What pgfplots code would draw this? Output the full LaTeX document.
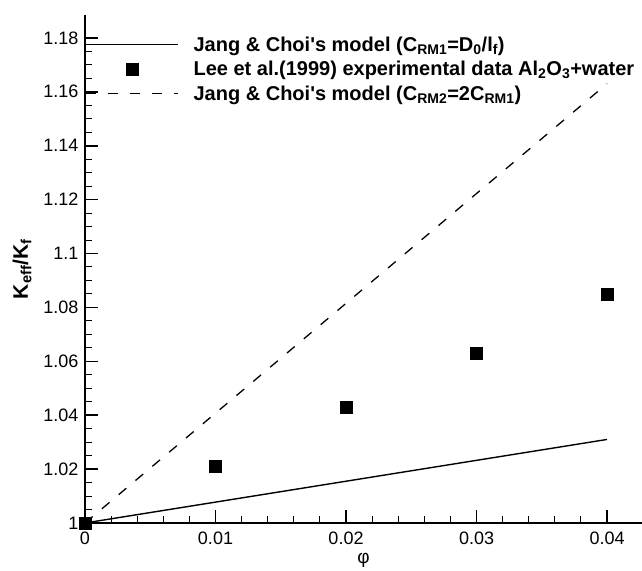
\documentclass[border=0pt]{standalone}
\usepackage{fontspec}
\setmainfont{Liberation Sans}
\usepackage{pgfplots}
\pgfplotsset{compat=1.18}
\begin{document}
\begin{tikzpicture}
\begin{axis}[
  name=ax,
  scale only axis,
  width=557bp, height=508bp,
  xmin=0, xmax=0.04268, ymin=1, ymax=1.1885,
  axis lines*=left,
  axis line style={line width=1.8bp},
  tick align=inside,
  scaled x ticks=false, scaled y ticks=false,
  xtick={0,0.01,0.02,0.03,0.04},
  xticklabels={0,0.01,0.02,0.03,0.04},
  ytick={1,1.02,1.04,1.06,1.08,1.1,1.12,1.14,1.16,1.18},
  yticklabels={1,1.02,1.04,1.06,1.08,1.1,1.12,1.14,1.16,1.18},
  minor x tick num=4, minor y tick num=3,
  major tick length=13bp, minor tick length=7.5bp,
  every major tick/.style={line width=1.6bp, black},
  every minor tick/.style={line width=1bp, black},
  ticklabel style={font=\fontsize{18bp}{20bp}\selectfont},
  x tick label style={yshift=-5bp},
  y tick label style={xshift=-3bp},
  clip=false,
  xlabel={φ},
  xlabel style={font=\fontsize{19bp}{22bp}\selectfont, at={(rel axis cs:0.5,-0.074)}, anchor=center},
  ylabel={K\textsubscript{eff}/K\textsubscript{f}},
  ylabel style={font=\fontsize{21bp}{24bp}\selectfont\bfseries, at={(rel axis cs:-0.1131,0.5)}, anchor=center},
  legend style={at={(0,0.9565)}, anchor=north west, draw=none, fill=none, inner sep=0pt,
    column sep=15bp, row sep=6.5bp,
    nodes={inner sep=0pt, text height=14bp, text depth=4bp, anchor=base west, font=\fontsize{20bp}{24bp}\selectfont\bfseries}},
  legend cell align=left,
]
\addplot[black, line width=1.4bp,
  legend image code/.code={\draw[black, line width=1.4bp] (0bp,7bp) -- (92bp,7bp);}]
  coordinates {(0,1) (0.04,1.031)};
\addlegendentry{Jang \& Choi\textquotesingle s model (C\textsubscript{RM1}=D\textsubscript{0}/l\textsubscript{f})}
\addplot[only marks, mark=square*, mark size=6bp, mark options={fill=black, draw=black, line width=0.4bp},
  legend image code/.code={\path[draw=none, fill=none] (0bp,7bp) -- (92bp,7bp); \fill[black] (40bp,1bp) rectangle (52bp,13bp);}]
  coordinates {(0,1) (0.01,1.021) (0.02,1.043) (0.03,1.063) (0.04,1.085)};
\addlegendentry{Lee et al.(1999) experimental data Al\textsubscript{2}O\textsubscript{3}+water}
\addplot[black, line width=1.3bp, dash pattern=on 10bp off 12bp,
  legend image code/.code={\draw[black, line width=1.3bp, dash pattern=on 10bp off 12bp] (0bp,7bp) -- (92bp,7bp);}]
  coordinates {(0,1) (0.04,1.163)};
\addlegendentry{Jang \& Choi\textquotesingle s model (C\textsubscript{RM2}=2C\textsubscript{RM1})}
\end{axis}
\pgfresetboundingbox
\path ([shift={(-85bp,-48bp)}]ax.south west) rectangle ([shift={(0bp,15bp)}]ax.north east);
\end{tikzpicture}
\end{document}
